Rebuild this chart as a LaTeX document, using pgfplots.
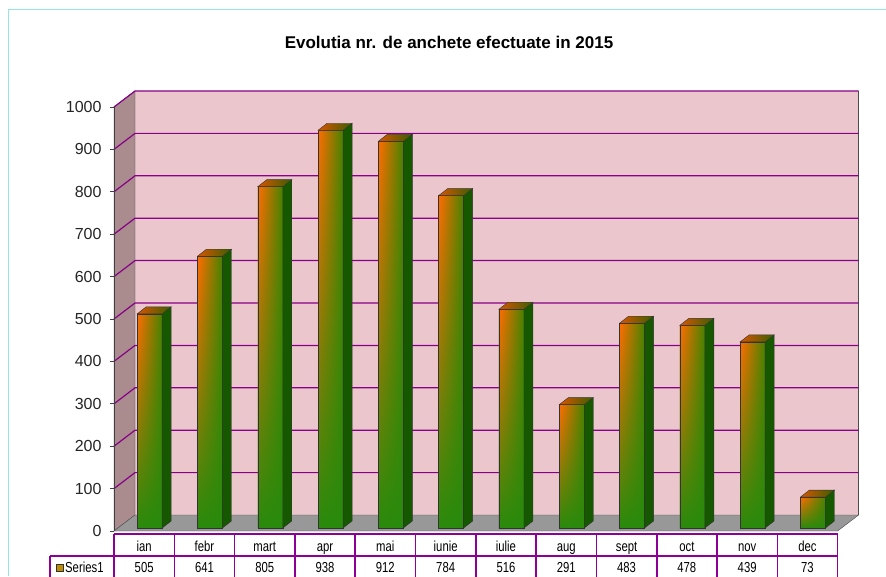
\documentclass[border=0pt]{standalone}
\usepackage{pgfplots}
\pgfplotsset{compat=1.18}
\usepackage{pgfplotstable}
\usetikzlibrary{shadings}
\usepackage{fontspec}
\setmainfont{Liberation Sans}
\newfontfamily\narrowfont{Liberation Sans}[FakeStretch=0.78]

\definecolor{wallpink}{RGB}{235,199,205}
\definecolor{sidewall}{RGB}{170,140,143}
\definecolor{floorgray}{RGB}{152,152,152}
\definecolor{gridpurple}{RGB}{135,0,135}
\definecolor{tablepurple}{RGB}{140,0,150}
\definecolor{barorange}{RGB}{255,108,0}
\definecolor{bargreen}{RGB}{40,138,12}
\definecolor{barolive}{RGB}{70,130,0}
\definecolor{sidegreen}{RGB}{22,88,0}
\definecolor{toporange}{RGB}{215,85,0}
\definecolor{topgreen}{RGB}{60,95,0}
\definecolor{framecyan}{RGB}{150,228,232}
\definecolor{keygold}{RGB}{190,140,0}

\pgfplotstableread{
x v
0 505
1 641
2 805
3 938
4 912
5 784
6 516
7 291
8 483
9 478
10 439
11 73
}\data

\pgfdeclareplotmark{bar3d}{%
  \pgfmathsetmacro\hh{3-\barval*0.424}%
  \pgfmathsetmacro\hb{10-\barval*0.424}%
  \shade[upper left=barorange, upper right=barolive, lower left=bargreen, lower right=bargreen, draw=black!80, line width=0.4pt] (-7pt,\hh pt) rectangle (18pt,3pt);
  \fill[sidegreen,draw=black!80,line width=0.4pt] (18pt,\hh pt) -- (18pt,3pt) -- (27pt,10pt) -- (27pt,\hb pt) -- cycle;
  \shade[left color=toporange,right color=topgreen,draw=black!80,line width=0.4pt] (-7pt,3pt) -- (18pt,3pt) -- (27pt,10pt) -- (2pt,10pt) -- cycle;
}

\begin{document}
\begin{tikzpicture}
\fill[white] (0,0) rectangle (886pt,576pt);
\draw[framecyan,line width=1pt] (8pt,0) -- (8pt,566pt) -- (886pt,566pt);
\node[font=\bfseries\fontsize{17}{17}\selectfont] at (449pt,533.5pt) {Evolutia nr. de anchete efectuate in 2015};
\begin{axis}[
  clip=false,
  at={(114pt,45pt)}, anchor=south west,
  x=60.3pt, y=0.424pt,
  xmin=-0.5, xmax=11.5, ymin=0, ymax=1000,
  axis x line*=bottom, axis y line*=left,
  x axis line style={draw=none},
  y axis line style={-, draw=black!75, line width=0.8pt},
  tick align=outside, major tick length=4pt,
  xtick={0,...,11},
  xticklabels={ian,febr,mart,apr,mai,iunie,iulie,aug,sept,oct,nov,dec},
  xtick style={draw=none},
  xticklabel style={anchor=base, yshift=-16pt, font=\narrowfont\fontsize{14.5}{14.5}\selectfont},
  ytick={0,100,...,1000},
  ytick style={draw=black!75, line width=0.8pt},
  yticklabel style={font=\fontsize{16}{16}\selectfont, text=black!85, xshift=-5pt},
  /pgf/number format/1000 sep={},
  /pgf/number format/assume math mode=true,
]
\fill[wallpink] ([shift={(21pt,16pt)}]axis cs:-0.5,0) rectangle ([shift={(21pt,16pt)}]axis cs:11.5,1000);
\filldraw[fill=sidewall, draw=black!70] (axis cs:-0.5,0) -- (axis cs:-0.5,1000) -- ([shift={(21pt,16pt)}]axis cs:-0.5,1000) -- ([shift={(21pt,16pt)}]axis cs:-0.5,0) -- cycle;
\filldraw[fill=floorgray, draw=black!70] (axis cs:-0.5,0) -- (axis cs:11.5,0) -- ([shift={(21pt,16pt)}]axis cs:11.5,0) -- ([shift={(21pt,16pt)}]axis cs:-0.5,0) -- cycle;
\draw[black!70] ([shift={(21pt,16pt)}]axis cs:11.5,0) -- ([shift={(21pt,16pt)}]axis cs:11.5,1000);
\pgfplotsinvokeforeach{100,200,300,400,500,600,700,800,900,1000}{
  \draw[gridpurple,line width=1.2pt] (axis cs:-0.5,#1) -- ++(21pt,16pt) -- ([shift={(21pt,16pt)}]axis cs:11.5,#1);
}
\draw[black!75, line width=0.8pt] (axis cs:-0.5,0) -- (axis cs:-0.5,1000);
\addplot[ybar, bar width=25pt, bar shift=5.5pt, yshift=3pt, draw=none, fill=bargreen]
  table[x=x,y=v]{\data};
\addplot[scatter, only marks, mark=bar3d,
  scatter/@pre marker code/.code={}, scatter/@post marker code/.code={},
  visualization depends on={\thisrow{v} \as \barval}]
  table[x=x,y=v]{\data};
\addplot[draw=none, mark=none, nodes near coords, point meta=explicit,
  every node near coord/.append style={anchor=base, yshift=-41pt, font=\narrowfont\fontsize{14.5}{14.5}\selectfont, text=black}]
  table[x=x, y expr=0, meta=v]{\data};
\end{axis}
% data table grid
\begin{scope}[tablepurple, line width=1.6pt]
\draw (114pt,42pt) -- (837.6pt,42pt);
\draw (50pt,20pt) -- (837.6pt,20pt);
\draw (50pt,20pt) -- (50pt,-2pt);
\foreach \k in {0,...,12} {\draw ({(114+60.3*\k)*1pt},42pt) -- ({(114+60.3*\k)*1pt},-2pt);}
\end{scope}
\filldraw[fill=keygold, draw=black!80, line width=0.6pt] (56pt,5pt) rectangle (63pt,12pt);
\node[anchor=base west, inner sep=0pt, font=\narrowfont\fontsize{14.5}{14.5}\selectfont] at (65pt,4pt) {Series1};
\pgfresetboundingbox
\useasboundingbox (0,0) rectangle (886pt,576pt);
\end{tikzpicture}
\end{document}
